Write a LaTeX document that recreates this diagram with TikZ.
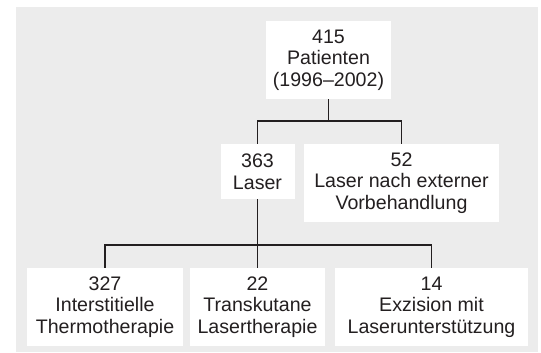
\documentclass[tikz,border=0pt]{standalone}
\usepackage{fontspec}
\setmainfont{Liberation Sans}
\usetikzlibrary{positioning}
\definecolor{panelgray}{HTML}{ECECEC}
\definecolor{inkgray}{HTML}{231F20}
\tikzset{
  pbox/.style={fill=white, draw=none, align=center, inner sep=0pt,
    text=inkgray, font=\fontsize{19.6}{21.7}\selectfont},
  link/.style={line width=1.1pt, draw=inkgray},
}
\begin{document}
\begin{tikzpicture}[x=1pt, y=-1pt]
    \useasboundingbox (0,0) rectangle (541,353);
    % background panel
    \fill[panelgray] (16,7) rectangle (538,352);
    % top level
    \node[pbox, minimum width=125pt, minimum height=78pt] (pat) at (328.5,60) {415\\Patienten\\(1996--2002)};
    % second level
    \node[pbox, minimum width=74pt, minimum height=55pt] (las) at (257.5,171.5) {363\\Laser};
    \node[pbox, minimum width=195pt, minimum height=78pt] (ext) at (401.5,183) {52\\Laser nach externer\\Vorbehandlung};
    % third level
    \node[pbox, minimum width=156pt, minimum height=78pt] (itt) at (105,307) {327\\Interstitielle\\Thermotherapie};
    \node[pbox, minimum width=135pt, minimum height=78pt] (tkl) at (257.5,307) {22\\Transkutane\\Lasertherapie};
    \node[pbox, minimum width=193pt, minimum height=78pt] (exz) at (431.5,307) {14\\Exzision mit\\Laserunterstützung};
    % connectors
    \coordinate (j1) at (328.5,121);
    \coordinate (j2) at (257.5,245);
    \draw[link] (pat.south) -- (j1);
    \draw[link] (las.north) |- (j1) -| (ext.north);
    \draw[link] (las.south) -- (j2);
    \draw[link] (itt.north) |- (j2) -| (exz.north);
    \draw[link] (j2) -- (tkl.north);
\end{tikzpicture}
\end{document}
